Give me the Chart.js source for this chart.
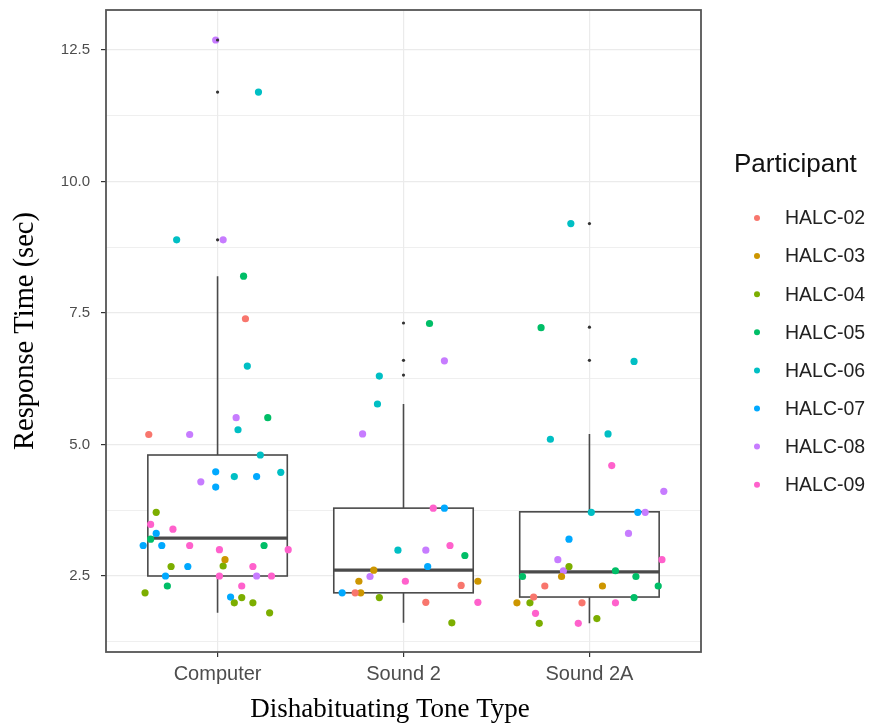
<!DOCTYPE html>
<html lang="en">
<head>
<meta charset="UTF-8">
<title>Response Time by Dishabituating Tone Type</title>
<script src="https://cdn.jsdelivr.net/npm/chart.js"></script>
<style>
  html, body { margin: 0; padding: 0; background: #fff; }
  #wrap { width: 872px; height: 728px; }
</style>
</head>
<body>
<div id="wrap"><canvas id="myChart" width="872" height="728"></canvas></div>
<script>
    // x axis categories sit at positions 1, 2, 3
    const categories = ['Computer', 'Sound 2', 'Sound 2A'];

    const participants = ['HALC-02', 'HALC-03', 'HALC-04', 'HALC-05', 'HALC-06', 'HALC-07', 'HALC-08', 'HALC-09'];
    const participantColors = ['#F8766D', '#CD9600', '#7CAE00', '#00BE67', '#00BFC4', '#00A9FF', '#C77CFF', '#FF61CC'];

    // each point: [jittered x position, response time (sec)]
    const halc02 = [[1.15, 7.39], [0.63, 5.19],
        [2.31, 2.32], [1.74, 2.18], [2.12, 2.00],
        [2.76, 2.31], [2.70, 2.10], [2.96, 1.99]];
    const halc03 = [[1.04, 2.81],
        [1.84, 2.61], [1.76, 2.40], [2.40, 2.40], [1.77, 2.18],
        [2.85, 2.49], [3.07, 2.31], [2.61, 1.99]];
    const halc04 = [[0.67, 3.71], [1.03, 2.69], [0.75, 2.68], [0.61, 2.18], [1.13, 2.09], [1.09, 1.99], [1.19, 1.99], [1.28, 1.80],
        [1.87, 2.09], [2.26, 1.61],
        [2.89, 2.68], [2.68, 1.99], [3.04, 1.69], [2.73, 1.60]];
    const halc05 = [[1.14, 8.20], [1.27, 5.51], [0.64, 3.20], [1.25, 3.08], [0.73, 2.31],
        [2.14, 7.30], [2.33, 2.89],
        [2.74, 7.22], [2.64, 2.49], [3.14, 2.60], [3.25, 2.49], [3.37, 2.31], [3.24, 2.09]];
    const halc06 = [[1.22, 11.70], [0.78, 8.89], [1.16, 6.49], [1.11, 5.28], [1.23, 4.80], [1.09, 4.39], [1.34, 4.47],
        [1.87, 6.30], [1.86, 5.77], [1.97, 2.99],
        [2.90, 9.20], [3.24, 6.58], [2.79, 5.10], [3.10, 5.20], [3.01, 3.71]];
    const halc07 = [[0.99, 4.48], [1.21, 4.39], [0.99, 4.19], [0.67, 3.31], [0.60, 3.08], [0.70, 3.08], [0.84, 2.68], [0.72, 2.50], [1.07, 2.10],
        [2.22, 3.79], [2.13, 2.68], [1.67, 2.18],
        [3.26, 3.71], [2.89, 3.20]];
    const halc08 = [[0.99, 12.69], [1.03, 8.89], [1.10, 5.51], [0.85, 5.19], [0.91, 4.29], [1.21, 2.50],
        [2.22, 6.59], [1.78, 5.20], [2.12, 2.99], [1.82, 2.49],
        [3.40, 4.11], [3.30, 3.71], [3.21, 3.31], [2.83, 2.81], [2.86, 2.60]];
    const halc09 = [[0.64, 3.48], [0.76, 3.39], [0.85, 3.08], [1.01, 3.00], [1.38, 3.00], [1.19, 2.68], [1.01, 2.50], [1.29, 2.50], [1.13, 2.31],
        [2.16, 3.79], [2.25, 3.08], [2.01, 2.40], [2.40, 2.00],
        [3.12, 4.60], [3.39, 2.81], [3.14, 1.99], [2.71, 1.79], [2.94, 1.60]];
    const participantPoints = [halc02, halc03, halc04, halc05, halc06, halc07, halc08, halc09];

    // boxplot summary per category
    const whiskerLow = [1.80, 1.61, 1.60];
    const boxQ1 = [2.50, 2.18, 2.10];
    const boxMedian = [3.22, 2.61, 2.58];
    const boxQ3 = [4.80, 3.79, 3.72];
    const whiskerHigh = [8.20, 5.77, 5.20];
    const outlierX = [1, 1, 1, 2, 2, 2, 3, 3, 3];
    const outlierY = [12.69, 11.70, 8.89, 7.31, 6.60, 6.32, 9.20, 7.23, 6.60];

    const yTicks = [2.5, 5.0, 7.5, 10.0, 12.5];
    const yMinorTicks = [1.25, 3.75, 6.25, 8.75, 11.25];

    const boxWidth = 0.75;

    const boxPlugin = {
        id: 'boxes',
        beforeDatasetsDraw(chart) {
            const c = chart.ctx;
            const xs = chart.scales.x, ys = chart.scales.y;
            c.save();
            c.strokeStyle = '#4a4a4a';
            for (let i = 0; i < categories.length; i++) {
                const xc = xs.getPixelForValue(i + 1);
                const xl = xs.getPixelForValue(i + 1 - boxWidth / 2);
                const xr = xs.getPixelForValue(i + 1 + boxWidth / 2);
                const yq1 = ys.getPixelForValue(boxQ1[i]);
                const yq3 = ys.getPixelForValue(boxQ3[i]);
                const ym = ys.getPixelForValue(boxMedian[i]);
                // whiskers
                c.lineWidth = 1.6;
                c.beginPath();
                c.moveTo(xc, yq3); c.lineTo(xc, ys.getPixelForValue(whiskerHigh[i]));
                c.moveTo(xc, yq1); c.lineTo(xc, ys.getPixelForValue(whiskerLow[i]));
                c.stroke();
                // box
                c.fillStyle = '#fff';
                c.fillRect(xl, yq3, xr - xl, yq1 - yq3);
                c.strokeRect(xl, yq3, xr - xl, yq1 - yq3);
                // median
                c.lineWidth = 3.2;
                c.beginPath();
                c.moveTo(xl, ym); c.lineTo(xr, ym);
                c.stroke();
            }
            c.restore();
        },
        afterDraw(chart) {
            const c = chart.ctx;
            const a = chart.chartArea;
            c.save();
            // panel border
            c.strokeStyle = '#555';
            c.lineWidth = 1.8;
            c.strokeRect(a.left, a.top, a.right - a.left, a.bottom - a.top);

            // x axis title (sits a little left of the panel centre in the original)
            c.fillStyle = '#000';
            c.font = '27px "Liberation Serif", "Times New Roman", serif';
            c.textAlign = 'center';
            c.textBaseline = 'middle';
            c.fillText('Dishabituating Tone Type', 390, 710);

            // legend
            c.fillStyle = '#111';
            c.font = '26px "Liberation Sans", Arial, sans-serif';
            c.textAlign = 'left';
            c.fillText('Participant', 734, 165);
            c.font = '19.5px "Liberation Sans", Arial, sans-serif';
            participants.forEach((p, i) => {
                const y = 218 + i * 38.1;
                c.fillStyle = participantColors[i];
                c.beginPath();
                c.arc(757, y, 3, 0, Math.PI * 2);
                c.fill();
                c.fillStyle = '#222';
                c.fillText(p, 785, y + 1);
            });
            c.restore();
        }
    };

    const datasets = [{
        label: 'outliers',
        data: outlierX.map((x, i) => ({ x: x, y: outlierY[i] })),
        backgroundColor: '#333',
        borderWidth: 0,
        pointRadius: 1.6
    }];
    participants.forEach((p, i) => {
        datasets.push({
            label: p,
            data: participantPoints[i].map((d) => ({ x: d[0], y: d[1] })),
            backgroundColor: participantColors[i],
            borderWidth: 0,
            pointRadius: 3.6
        });
    });

    let ctx = document.getElementById('myChart').getContext('2d');
    let myChart = new Chart(ctx, {
        type: 'scatter',
        data: { datasets: datasets },
        options: {
            responsive: false,
            animation: false,
            devicePixelRatio: 1,
            events: [],
            layout: { padding: { left: 0, top: 10, right: 171, bottom: 0 } },
            plugins: {
                legend: { display: false },
                tooltip: { enabled: false }
            },
            scales: {
                x: {
                    type: 'linear',
                    min: 0.4,
                    max: 3.6,
                    afterBuildTicks: (scale) => {
                        scale.ticks = categories.map((c, i) => ({ value: i + 1 }));
                    },
                    afterFit: (scale) => { scale.height = 76; },
                    ticks: {
                        callback: (v) => categories[Math.round(v) - 1],
                        color: '#4d4d4d',
                        font: { family: '"Liberation Sans", Arial, sans-serif', size: 20 },
                        padding: 5,
                        autoSkip: false,
                        maxRotation: 0
                    },
                    grid: {
                        color: '#ebebeb',
                        lineWidth: 1.2,
                        tickColor: '#333',
                        tickLength: 5
                    },
                    border: { display: false }
                },
                y: {
                    min: 1.055,
                    max: 13.26,
                    afterBuildTicks: (scale) => {
                        scale.ticks = yMinorTicks.concat(yTicks).sort((a, b) => a - b).map((v) => ({ value: v }));
                    },
                    afterFit: (scale) => {
                        scale.width = 106;
                        scale.paddingTop = 0;
                        scale.paddingBottom = 0;
                    },
                    ticks: {
                        callback: (v) => yTicks.includes(v) ? v.toFixed(1) : '',
                        color: '#4d4d4d',
                        font: { family: '"Liberation Sans", Arial, sans-serif', size: 15 },
                        padding: 11,
                        autoSkip: false
                    },
                    grid: {
                        color: '#ebebeb',
                        lineWidth: (c) => yTicks.includes(c.tick.value) ? 1.2 : 0.8,
                        tickColor: (c) => yTicks.includes(c.tick.value) ? '#333' : 'rgba(0,0,0,0)',
                        tickLength: 5
                    },
                    border: { display: false },
                    title: {
                        display: true,
                        text: 'Response Time (sec)',
                        color: '#000',
                        font: { family: '"Liberation Serif", "Times New Roman", serif', size: 28.5 },
                        padding: { top: 8, bottom: 0 }
                    }
                }
            }
        },
        plugins: [boxPlugin]
    });
</script>
</body>
</html>
